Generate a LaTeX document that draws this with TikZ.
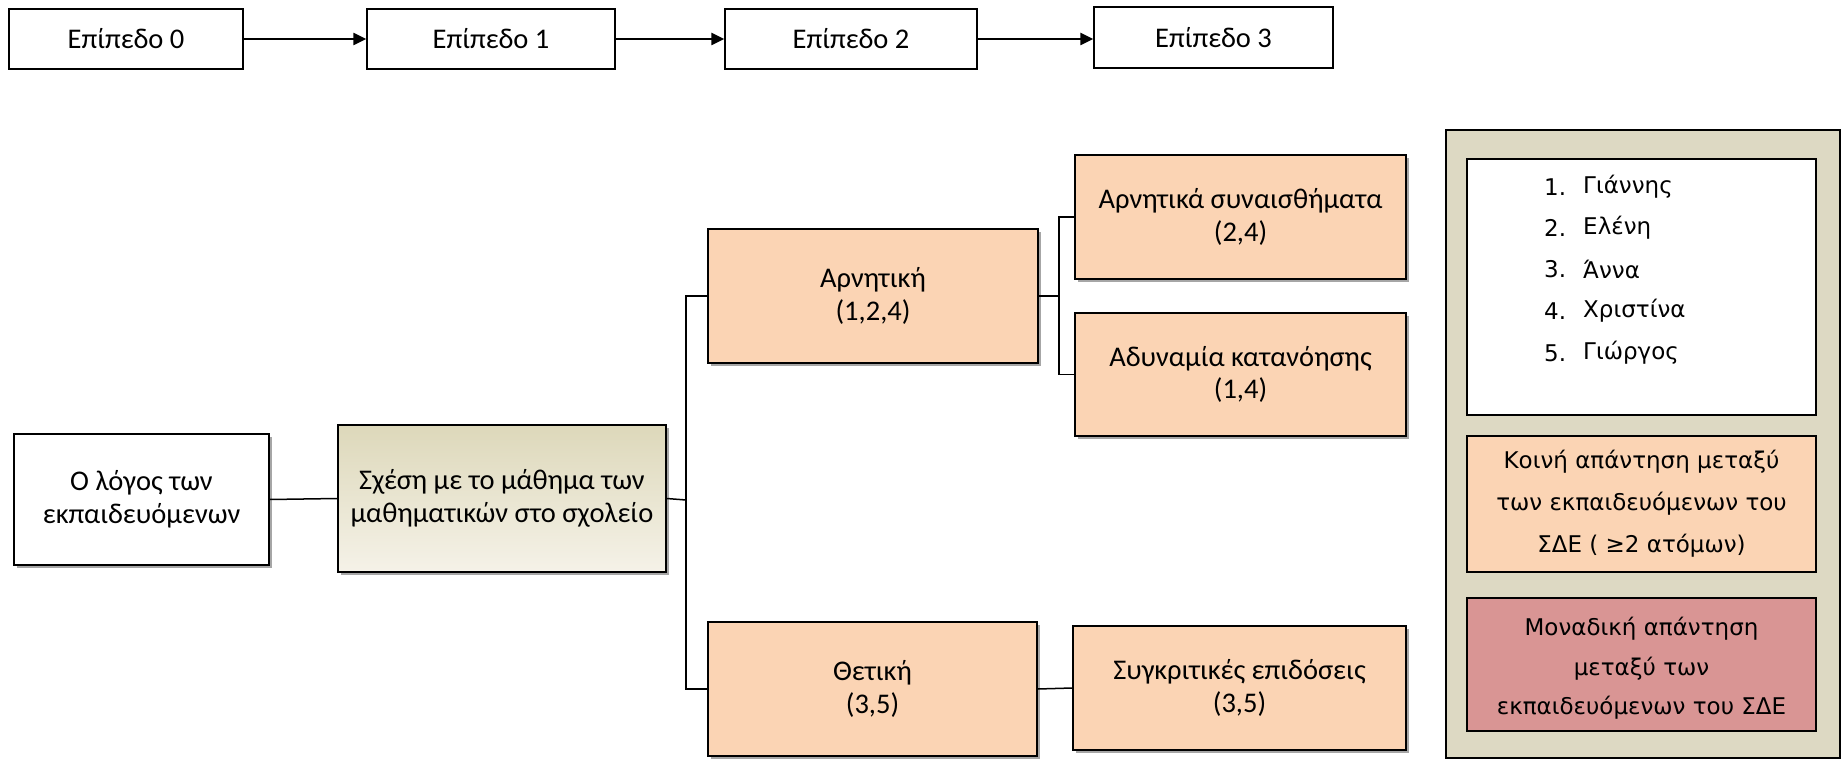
\documentclass[tikz,border=0pt]{standalone}
\usepackage{fontspec}
\setmainfont{Carlito}
\newfontfamily\legendfont{DejaVu Sans}
\usetikzlibrary{shadows,arrows.meta}
\definecolor{peach}{HTML}{FBD4B4}
\definecolor{legendbg}{HTML}{DDD9C3}
\definecolor{rose}{HTML}{D99594}
\definecolor{khakitop}{HTML}{DDD8BA}
\definecolor{khakibot}{HTML}{F5F2E8}
\begin{document}
\begin{tikzpicture}[x=1pt,y=-1pt,
  base/.style={draw=black, line width=1.6pt, align=center, inner sep=0pt,
    font=\fontsize{28.5}{32.5}\selectfont},
  lvl/.style={base, fill=white, line width=1.3pt, minimum height=60pt},
  sh/.style={drop shadow={shadow xshift=2.5pt, shadow yshift=-3pt, opacity=0.35, fill=black}},
  catbox/.style={base, fill=peach, sh},
  legbox/.style={draw=black, line width=1.3pt, align=center, inner sep=0pt,
    font=\legendfont\fontsize{23}{42}\selectfont},
  listtext/.style={anchor=west, inner sep=0pt, font=\legendfont\fontsize{23}{28}\selectfont},
  link/.style={line width=1.5pt},
  levarrow/.style={line width=2.2pt, -{Triangle[length=13pt,width=12pt]}}
]
\useasboundingbox (0,0) rectangle (1843,759);

% levels along the top
\node[lvl, minimum width=234pt] (lv0) at (126,39) {Επίπεδο 0};
\node[lvl, minimum width=248pt] (lv1) at (491,39) {Επίπεδο 1};
\node[lvl, minimum width=252pt] (lv2) at (851,39) {Επίπεδο 2};
\node[lvl, minimum width=239pt, minimum height=61pt] (lv3) at (1213.5,37.5) {Επίπεδο 3};
\draw[levarrow] (lv0.east) -- (lv1.west);
\draw[levarrow] (lv1.east) -- (lv2.west);
\draw[levarrow] (lv2.east) -- (lv3.west |- lv2.east);

% hierarchy
\node[base, fill=white, sh, minimum width=255pt, minimum height=131pt] (logos) at (141.5,499.5)
  {Ο λόγος των\\εκπαιδευόμενων};
\node[base, top color=khakitop, bottom color=khakibot, sh, minimum width=328pt, minimum height=147pt] (sxesi) at (502,498.5)
  {Σχέση με το μάθημα των\\μαθηματικών στο σχολείο};
\node[catbox, minimum width=330pt, minimum height=134pt] (arn) at (873,296) {Αρνητική\\(1,2,4)};
\node[catbox, minimum width=329pt, minimum height=134pt] (thet) at (872.5,689) {Θετική\\(3,5)};
\node[catbox, minimum width=331pt, minimum height=124pt] (synais) at (1240.5,217) {Αρνητικά συναισθήματα\\(2,4)};
\node[catbox, minimum width=331pt, minimum height=123pt] (adyn) at (1240.5,374.5) {Αδυναμία κατανόησης\\(1,4)};
\node[catbox, minimum width=333pt, minimum height=124pt] (sygkr) at (1239.5,688) {Συγκριτικές επιδόσεις\\(3,5)};

\coordinate (trunk) at (686,500);
\coordinate (fork) at (1059,296);
\draw[link] (logos.east) -- (sxesi.west);
\draw[link] (sxesi.east) -- (trunk);
\draw[link] (arn.west) -| (trunk) |- (thet.west);
\draw[link] (arn.east) -- (fork);
\draw[link] (synais.west) -| (fork) |- (adyn.west);
\draw[link] (thet.east) -- (sygkr.west);

% legend
\node[legbox, fill=legendbg, minimum width=394pt, minimum height=628pt] (legend) at (1643,444) {};
\node[legbox, fill=white, minimum width=349pt, minimum height=256pt] (names) at (1641.5,287) {};
\foreach \n/\name/\y in {1/Γιάννης/187, 2/Ελένη/228, 3/Άννα/269, 4/Χριστίνα/311, 5/Γιώργος/353}{
  \node[listtext] (num\n) at (1544,\y) {\n.};
  \node[listtext] (name\n) at (1583,\y) {\name};
}
\node[legbox, fill=peach, minimum width=349pt, minimum height=136pt] (koini) at (1641.5,504)
  {Κοινή απάντηση μεταξύ\\των εκπαιδευόμενων του\\ΣΔΕ ( ≥2 ατόμων)};
\node[legbox, fill=rose, minimum width=349pt, minimum height=133pt] (monad) at (1641.5,664.5) {};
\node[align=center, inner sep=0pt, font=\legendfont\fontsize{23}{39.5}\selectfont] (monadtext) at (1641.5,668.5)
  {Μοναδική απάντηση\\μεταξύ των\\εκπαιδευόμενων του ΣΔΕ};
\end{tikzpicture}
\end{document}
